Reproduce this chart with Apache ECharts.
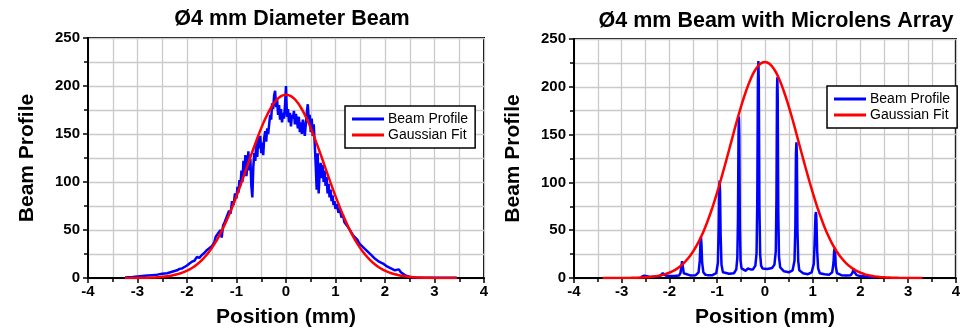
<!DOCTYPE html>
<html lang="en">
<head>
    <meta charset="UTF-8">
    <title>Beam Profile</title>
    <script src="https://cdn.jsdelivr.net/npm/echarts@6/dist/echarts.min.js"></script>
    <style>
        html, body { margin: 0; padding: 0; background: #fff; }
    </style>
</head>
<body>
<div id="main" style="width: 963px;height:333px;"></div>
<script type="text/javascript">
    // left panel: plain 4 mm beam
    let beam_plain = [
        [-3.25, 0.5], [-3.1, 1], [-3.0, 1.5], [-2.9, 2], [-2.8, 2.5], [-2.7, 3], [-2.6, 3.5], [-2.5, 4.5],
        [-2.4, 5], [-2.3, 6.5], [-2.2, 8], [-2.15, 9.5], [-2.1, 10], [-2.05, 11.5], [-2.0, 13], [-1.95, 15],
        [-1.9, 17], [-1.85, 18], [-1.8, 22], [-1.75, 21], [-1.7, 24], [-1.65, 26], [-1.6, 29], [-1.55, 31],
        [-1.5, 33], [-1.45, 37], [-1.42, 43], [-1.38, 46], [-1.35, 44], [-1.32, 50], [-1.3, 42], [-1.27, 55],
        [-1.24, 58], [-1.21, 62], [-1.18, 60], [-1.15, 70], [-1.12, 67], [-1.09, 80], [-1.06, 76], [-1.03, 88],
        [-1.0, 83], [-0.98, 95], [-0.96, 89], [-0.94, 102], [-0.92, 96], [-0.9, 112], [-0.88, 100], [-0.86, 122],
        [-0.84, 110], [-0.82, 128], [-0.8, 106], [-0.78, 118], [-0.76, 132], [-0.74, 112], [-0.72, 124], [-0.7, 96],
        [-0.68, 84], [-0.66, 116], [-0.64, 130], [-0.62, 122], [-0.6, 142], [-0.58, 126], [-0.56, 147], [-0.54, 135],
        [-0.52, 148], [-0.5, 130], [-0.48, 141], [-0.46, 128], [-0.44, 146], [-0.42, 153], [-0.4, 142], [-0.38, 156],
        [-0.36, 150], [-0.34, 160], [-0.32, 170], [-0.3, 165], [-0.28, 182], [-0.26, 176], [-0.24, 190], [-0.22, 195],
        [-0.2, 178], [-0.18, 186], [-0.16, 170], [-0.14, 180], [-0.12, 165], [-0.1, 176], [-0.08, 162], [-0.06, 172],
        [-0.04, 166], [-0.02, 180], [0, 200], [0.02, 168], [0.04, 176], [0.06, 162], [0.08, 172], [0.1, 158],
        [0.12, 170], [0.14, 166], [0.16, 174], [0.18, 160], [0.2, 171], [0.22, 165], [0.24, 156], [0.26, 168],
        [0.28, 152], [0.3, 162], [0.32, 150], [0.34, 165], [0.36, 158], [0.38, 148], [0.4, 160], [0.42, 172],
        [0.44, 181], [0.46, 165], [0.48, 170], [0.5, 152], [0.52, 166], [0.54, 148], [0.56, 160], [0.58, 140],
        [0.6, 118], [0.62, 92], [0.64, 130], [0.66, 88], [0.68, 110], [0.7, 120], [0.72, 104], [0.74, 118],
        [0.76, 100], [0.78, 112], [0.8, 96], [0.82, 105], [0.84, 88], [0.86, 98], [0.88, 84], [0.9, 92],
        [0.92, 80], [0.94, 86], [0.96, 76], [0.98, 80], [1.0, 72], [1.03, 77], [1.06, 68], [1.09, 72],
        [1.12, 63], [1.15, 66], [1.18, 58], [1.21, 60], [1.24, 54], [1.27, 56], [1.3, 49], [1.33, 51],
        [1.36, 44], [1.4, 43], [1.44, 40], [1.48, 36], [1.52, 38], [1.56, 32], [1.6, 33], [1.64, 28],
        [1.68, 29], [1.72, 24], [1.76, 25], [1.8, 20], [1.84, 22], [1.88, 17], [1.92, 19], [1.96, 15],
        [2.0, 16], [2.04, 12], [2.08, 14], [2.12, 10], [2.16, 9], [2.2, 8], [2.24, 10], [2.28, 9],
        [2.32, 6], [2.36, 5], [2.4, 3], [2.44, 2], [2.5, 1], [2.6, 0.5], [2.8, 0.3], [3.0, 0.3],
        [3.2, 0.3], [3.45, 0.3]
    ]
    let fit_plain = [
        [-3.25, 0], [-3.0, 0.1], [-2.9, 0.2], [-2.8, 0.3], [-2.7, 0.5], [-2.6, 0.8], [-2.5, 1.2], [-2.4, 1.8],
        [-2.3, 2.7], [-2.2, 3.9], [-2.1, 5.5], [-2.0, 7.6], [-1.9, 10.4], [-1.8, 14.0], [-1.7, 18.6], [-1.6, 24.3],
        [-1.5, 31.1], [-1.4, 39.3], [-1.3, 48.9], [-1.2, 59.8], [-1.1, 72.0], [-1.0, 85.3], [-0.9, 99.4], [-0.8, 114.0],
        [-0.7, 128.7], [-0.6, 142.9], [-0.5, 156.1], [-0.4, 167.9], [-0.3, 177.6], [-0.2, 184.9], [-0.1, 189.5], [0, 191],
        [0.1, 189.5], [0.2, 184.9], [0.3, 177.6], [0.4, 167.9], [0.5, 156.1], [0.6, 142.9], [0.7, 128.7], [0.8, 114.0],
        [0.9, 99.4], [1.0, 85.3], [1.1, 72.0], [1.2, 59.8], [1.3, 48.9], [1.4, 39.3], [1.5, 31.1], [1.6, 24.3],
        [1.7, 18.6], [1.8, 14.0], [1.9, 10.4], [2.0, 7.6], [2.1, 5.5], [2.2, 3.9], [2.3, 2.7], [2.4, 1.8],
        [2.5, 1.2], [2.6, 0.8], [2.7, 0.5], [2.8, 0.3], [2.9, 0.2], [3.0, 0.1], [3.45, 0]
    ]

    // right panel: beam through the microlens array
    let beam_mla = [
        [-2.6, 1], [-2.56, 1.5], [-2.53, 2.5], [-2.5, 1.5], [-2.4, 1], [-2.3, 1.5], [-2.2, 2], [-2.16, 3],
        [-2.14, 5], [-2.125, 6], [-2.11, 4], [-2.08, 2.5], [-2.0, 2], [-1.9, 2], [-1.8, 2.5], [-1.77, 5],
        [-1.75, 12], [-1.735, 17.5], [-1.72, 12], [-1.7, 5], [-1.66, 3], [-1.55, 2.5], [-1.45, 3], [-1.39, 6],
        [-1.365, 18], [-1.35, 38], [-1.34, 43], [-1.33, 36], [-1.315, 16], [-1.29, 6], [-1.25, 3.5], [-1.2, 3],
        [-1.1, 3], [-1.02, 5], [-0.985, 16], [-0.968, 55], [-0.955, 98], [-0.948, 102], [-0.94, 90], [-0.928, 45],
        [-0.91, 14], [-0.88, 6], [-0.84, 5], [-0.75, 4.5], [-0.65, 5], [-0.6, 9], [-0.578, 21], [-0.565, 60],
        [-0.553, 150], [-0.545, 169], [-0.537, 150], [-0.525, 55], [-0.51, 18], [-0.49, 10], [-0.45, 8], [-0.4, 7.5],
        [-0.36, 10], [-0.33, 8], [-0.3, 9], [-0.25, 9], [-0.2, 13], [-0.175, 26], [-0.16, 80], [-0.147, 205],
        [-0.137, 227], [-0.128, 205], [-0.115, 75], [-0.1, 25], [-0.08, 13], [-0.05, 10], [0.05, 9.5], [0.15, 10.5],
        [0.2, 14], [0.228, 28], [0.242, 85], [0.253, 195], [0.26, 210], [0.268, 190], [0.28, 70], [0.295, 22],
        [0.32, 11], [0.4, 7], [0.5, 6], [0.58, 8], [0.62, 18], [0.638, 55], [0.65, 130], [0.66, 142],
        [0.67, 128], [0.682, 50], [0.698, 18], [0.72, 8], [0.8, 5], [0.9, 4], [0.98, 6], [1.025, 15],
        [1.045, 42], [1.06, 66], [1.07, 69], [1.08, 60], [1.095, 28], [1.115, 10], [1.15, 5], [1.25, 4],
        [1.35, 3.5], [1.41, 6], [1.437, 16], [1.45, 28], [1.46, 31], [1.47, 27], [1.485, 12], [1.51, 5],
        [1.6, 3], [1.7, 2.5], [1.8, 3], [1.84, 6], [1.855, 10], [1.865, 11], [1.88, 6], [1.92, 3],
        [2.0, 2], [2.1, 1.5], [2.2, 1], [2.3, 0.5]
    ]
    let fit_mla = [
        [-3.4, 0], [-2.8, 0.16], [-2.7, 0.26], [-2.6, 0.43], [-2.5, 0.7], [-2.4, 1.1], [-2.3, 1.7], [-2.2, 2.6],
        [-2.1, 3.8], [-2.0, 5.6], [-1.9, 8.0], [-1.8, 11.3], [-1.7, 15.6], [-1.6, 21.1], [-1.5, 28.1], [-1.4, 36.7],
        [-1.3, 47.2], [-1.2, 59.6], [-1.1, 73.7], [-1.0, 89.5], [-0.9, 106.8], [-0.8, 124.9], [-0.7, 143.5], [-0.6, 162.0],
        [-0.5, 179.3], [-0.4, 194.8], [-0.3, 207.9], [-0.2, 217.8], [-0.1, 223.9], [0, 226],
        [0.1, 223.9], [0.2, 217.8], [0.3, 207.9], [0.4, 194.8], [0.5, 179.3], [0.6, 162.0], [0.7, 143.5], [0.8, 124.9],
        [0.9, 106.8], [1.0, 89.5], [1.1, 73.7], [1.2, 59.6], [1.3, 47.2], [1.4, 36.7], [1.5, 28.1], [1.6, 21.1],
        [1.7, 15.6], [1.8, 11.3], [1.9, 8.0], [2.0, 5.6], [2.1, 3.8], [2.2, 2.6], [2.3, 1.7], [2.4, 1.1],
        [2.5, 0.7], [2.6, 0.43], [2.7, 0.26], [2.8, 0.16], [3.3, 0]
    ]

    let titles = ['Ø4 mm Diameter Beam', 'Ø4 mm Beam with Microlens Array']
    let legend_names = ['Beam Profile', 'Gaussian Fit']

    let font = 'Liberation Sans, Arial, sans-serif'
    let gridColor = '#cacaca'

    function makeX(idx) {
        return {
            gridIndex: idx,
            type: 'value',
            min: -4, max: 4, interval: 1,
            name: 'Position (mm)',
            nameLocation: 'middle',
            nameGap: 29,
            nameTextStyle: {fontFamily: font, fontWeight: 'bold', fontSize: 21, color: '#000'},
            axisLine: {show: true, onZero: false, lineStyle: {color: '#000', width: 2}},
            axisTick: {show: true, inside: false, length: 5, lineStyle: {color: '#000', width: 1.5}},
            minorTick: {show: true, splitNumber: 2, length: 4, lineStyle: {color: '#000', width: 1.5}},
            axisLabel: {fontFamily: font, fontWeight: 'bold', fontSize: 15, color: '#000', margin: 6},
            splitLine: {show: true, lineStyle: {color: gridColor, width: 1.3}},
            minorSplitLine: {show: true, lineStyle: {color: gridColor, width: 1.3}}
        }
    }

    function makeY(idx) {
        return {
            gridIndex: idx,
            type: 'value',
            min: 0, max: 250, interval: 50,
            name: 'Beam Profile',
            nameLocation: 'middle',
            nameGap: 50,
            nameTextStyle: {fontFamily: font, fontWeight: 'bold', fontSize: 21, color: '#000'},
            axisLine: {show: true, onZero: false, lineStyle: {color: '#000', width: 2}},
            axisTick: {show: true, inside: false, length: 5, lineStyle: {color: '#000', width: 1.5}},
            minorTick: {show: true, splitNumber: 2, length: 4, lineStyle: {color: '#000', width: 1.5}},
            axisLabel: {fontFamily: font, fontWeight: 'bold', fontSize: 15, color: '#000', margin: 8},
            splitLine: {show: true, lineStyle: {color: gridColor, width: 1.3}},
            minorSplitLine: {show: true, lineStyle: {color: gridColor, width: 1.3}}
        }
    }

    function makeLegend(left, top) {
        return {
            left: left, top: top,
            orient: 'vertical',
            data: legend_names,
            icon: 'rect',
            itemWidth: 32, itemHeight: 3,
            itemGap: 2,
            padding: [6, 7, 6, 7],
            borderColor: '#000', borderWidth: 1.5,
            backgroundColor: '#fff',
            textStyle: {fontFamily: font, fontSize: 14, color: '#000', padding: [0, 0, 0, -1]},
            selectedMode: false
        }
    }

    let myChart = echarts.init(document.getElementById('main'))
    let option = {
        animation: false,
        backgroundColor: '#fff',
        title: [
            {text: titles[0], left: 287, top: 3, textAlign: 'center',
                textStyle: {fontFamily: font, fontWeight: 'bold', fontSize: 21.5, color: '#000'}},
            {text: titles[1], left: 771, top: 5, textAlign: 'center',
                textStyle: {fontFamily: font, fontWeight: 'bold', fontSize: 21.5, color: '#000'}}
        ],
        grid: [
            {left: 88, top: 38, width: 396, height: 245, show: true, borderColor: '#000', borderWidth: 2, backgroundColor: 'transparent'},
            {left: 574, top: 39, width: 392, height: 243, show: true, borderColor: '#000', borderWidth: 2, backgroundColor: 'transparent'}
        ],
        xAxis: [makeX(0), makeX(1)],
        yAxis: [makeY(0), makeY(1)],
        legend: [makeLegend(345, 106), makeLegend(827, 86)],
        series: [
            {name: 'Beam Profile', type: 'line', xAxisIndex: 0, yAxisIndex: 0, data: beam_plain,
                showSymbol: false, lineStyle: {color: '#0000ff', width: 2.5}, itemStyle: {color: '#0000ff'}},
            {name: 'Gaussian Fit', type: 'line', xAxisIndex: 0, yAxisIndex: 0, data: fit_plain, smooth: true,
                showSymbol: false, lineStyle: {color: '#ff0000', width: 2.5}, itemStyle: {color: '#ff0000'}},
            {name: 'Beam Profile', type: 'line', xAxisIndex: 1, yAxisIndex: 1, data: beam_mla,
                showSymbol: false, lineStyle: {color: '#0000ff', width: 2.5}, itemStyle: {color: '#0000ff'}},
            {name: 'Gaussian Fit', type: 'line', xAxisIndex: 1, yAxisIndex: 1, data: fit_mla, smooth: true,
                showSymbol: false, lineStyle: {color: '#ff0000', width: 2.5}, itemStyle: {color: '#ff0000'}}
        ]
    }
    myChart.setOption(option)
</script>
</body>
</html>
